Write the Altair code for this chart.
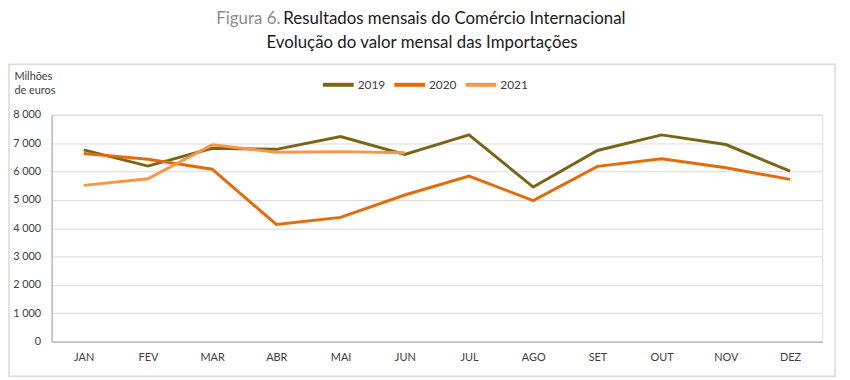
import altair as alt
import pandas as pd

months = ["JAN", "FEV", "MAR", "ABR", "MAI", "JUN", "JUL", "AGO", "SET", "OUT", "NOV", "DEZ"]
v2019 = [6760, 6190, 6820, 6780, 7230, 6600, 7290, 5450, 6740, 7290, 6950, 6010]
v2020 = [6630, 6430, 6080, 4130, 4380, 5170, 5840, 4970, 6180, 6450, 6130, 5720]
v2021 = [5510, 5740, 6940, 6680, 6700, 6660]
years = ["2019", "2020", "2021"]
colors = ["#7a6516", "#e36c0a", "#f79646"]

rows = []
for y, vals in zip(years, [v2019, v2020, v2021]):
    for i, v in enumerate(vals):
        rows.append({"mes": months[i], "ano": y, "valor": v, "ord": i})
df = pd.DataFrame(rows)

FONT = "Lato"

lines = alt.Chart(df).mark_line(strokeWidth=3, strokeJoin="miter").encode(
    x=alt.X("mes:N", sort=months, scale=alt.Scale(type="point", padding=0.5),
            axis=alt.Axis(title=None, labelAngle=0, ticks=False, labelPadding=10,
                          labelFont=FONT, labelFontSize=11, labelColor="#404040",
                          domainColor="#a6a6a6", grid=False)),
    y=alt.Y("valor:Q", scale=alt.Scale(domain=[0, 8000]),
            axis=alt.Axis(title=["Milhões", "de euros"], titleAngle=0, titleAlign="left",
                          titleBaseline="top", titleX=-38, titleY=-45,
                          titleFont=FONT, titleFontSize=11, titleFontWeight="normal",
                          titleColor="#404040", titleLineHeight=15,
                          values=list(range(0, 8001, 1000)), ticks=False, labelPadding=11,
                          labelExpr="replace(format(datum.value, ','), ',', ' ')",
                          labelFont=FONT, labelFontSize=11, labelColor="#404040",
                          domainColor="#a6a6a6", gridColor="#d9d9d9")),
    color=alt.Color("ano:N", scale=alt.Scale(domain=years, range=colors),
                    legend=alt.Legend(title=None, orient="none", direction="horizontal",
                                      legendX=272, legendY=-48, symbolType="stroke",
                                      symbolSize=961, symbolStrokeWidth=4,
                                      labelFont=FONT, labelFontSize=12, labelColor="#404040",
                                      columnPadding=1, labelOffset=2)),
    order="ord:Q",
)

title_df = pd.DataFrame({"t": ["x"]})
base = alt.Chart(title_df)
fig = base.mark_text(align="right", baseline="middle", font=FONT, fontSize=17,
                     color="#8c8c8c").encode(text=alt.value("Figura 6."),
                                             x=alt.value(231), y=alt.value(-97))
tit = base.mark_text(align="left", baseline="middle", font=FONT, fontSize=17,
                     color="#1a1a1a").encode(
    text=alt.value("Resultados mensais do Comércio Internacional"),
    x=alt.value(234), y=alt.value(-97))
sub = base.mark_text(align="center", baseline="middle", font=FONT, fontSize=17,
                     color="#1a1a1a").encode(
    text=alt.value("Evolução do valor mensal das Importações"),
    x=alt.value(374), y=alt.value(-72))
box = base.mark_rect(fill=None, stroke="#d9d9d9", strokeWidth=1.5).encode(
    x=alt.value(-43), x2=alt.value(791), y=alt.value(-51), y2=alt.value(264))

chart = alt.layer(box, lines, fig, tit, sub).properties(
    width=778, height=229,
    autosize=alt.AutoSizeParams(type="none"),
    padding={"left": 44, "top": 106, "right": 20, "bottom": 37},
).configure_view(stroke=None).configure(background="white")

chart.save("out.html", embed_options={"renderer": "svg", "actions": False})
